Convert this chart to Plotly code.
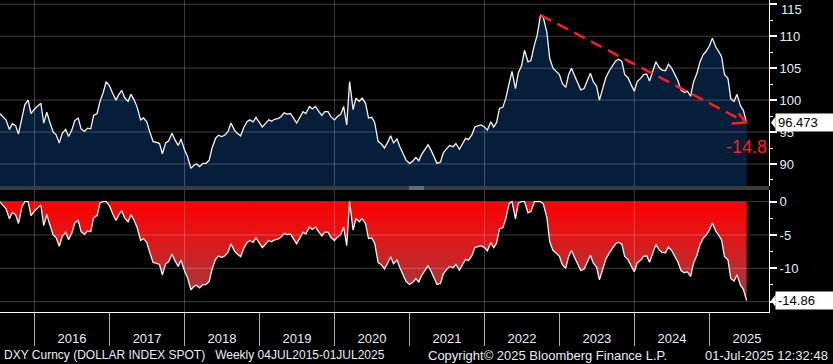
import numpy as np
import pandas as pd
import plotly.graph_objects as go

# ---------------- data (semi-monthly readings of DXY) -------------
dxy_2015 = [97.9, 97.4, 96.9, 95.4, 96.3, 96.0, 94.7, 97.2, 99.3, 100.0, 97.9]
dxy_2016 = [98.6, 99.0, 99.5, 96.4, 98.1, 96.6, 95.0, 94.6, 93.3, 94.8, 95.4, 94.3,
            95.3, 96.8, 97.2, 95.5, 95.1, 95.6, 95.5, 97.6, 97.9, 99.8, 101.2, 102.9]
dxy_2017 = [102.2, 101.1, 100.0, 100.9, 101.5, 100.4, 99.8, 100.9, 100.0, 98.9, 96.9, 97.2,
            96.6, 95.1, 93.5, 93.4, 93.2, 91.6, 93.3, 93.6, 94.8, 93.8, 92.9, 93.9]
dxy_2018 = [92.2, 91.2, 89.3, 89.8, 90.0, 89.6, 90.1, 90.1, 90.6, 92.5, 94.0, 94.5,
            94.3, 94.5, 95.1, 96.4, 95.3, 94.8, 94.4, 95.6, 96.6, 96.9, 96.6, 97.3]
dxy_2019 = [96.4, 95.8, 96.4, 96.9, 96.7, 97.0, 97.1, 97.4, 98.0, 97.8, 97.9, 97.2,
            96.4, 97.2, 98.2, 97.9, 99.0, 98.6, 99.0, 98.3, 97.6, 98.2, 98.2, 97.4]
dxy_2020 = [96.9, 97.4, 97.8, 99.0, 96.1, 102.9, 98.5, 100.3, 99.8, 100.3, 99.5, 97.2,
            97.3, 96.5, 93.5, 93.2, 92.5, 93.3, 94.4, 93.3, 93.9, 92.7, 91.5, 90.6]
dxy_2021 = [90.1, 90.4, 91.0, 90.5, 91.5, 92.2, 93.0, 92.2, 91.0, 90.1, 90.3, 91.8,
            92.4, 92.9, 92.7, 93.2, 92.3, 93.0, 94.0, 93.8, 94.6, 95.8, 96.0, 96.1]
dxy_2022 = [95.8, 95.3, 96.6, 95.8, 96.5, 98.7, 98.9, 100.3, 102.6, 104.5, 101.8, 104.3,
            105.4, 107.8, 106.0, 106.2, 108.6, 110.2, 113.31, 112.9, 110.6, 106.5, 105.0, 104.6]
dxy_2023 = [104.0, 102.6, 102.0, 104.0, 105.0, 103.9, 102.6, 101.6, 101.8, 102.9, 104.2, 102.9,
            102.2, 100.0, 101.8, 103.5, 104.6, 105.3, 106.1, 106.4, 106.1, 104.0, 103.5, 102.5]
dxy_2024 = [101.4, 102.9, 103.4, 104.0, 104.1, 103.0, 104.5, 106.0, 105.1, 104.7, 104.6, 105.6,
            105.0, 104.2, 103.0, 101.6, 101.2, 101.4, 100.6, 102.8, 104.2, 105.9, 107.1, 107.6]
dxy_2025 = [108.5, 109.7, 108.3, 107.6, 106.8, 104.0, 103.4, 100.2, 99.8, 100.9, 99.1, 98.4,
            96.473]

first_date, last_date = "2015-07-15", "2025-07-01"

top_ticks = [90, 95, 100, 105, 110, 115]
top_ticktext = ["90", "95", "100", "105", "110", ""]   # 115 is drawn nudged down (see below)
bot_ticks = [0, -5, -10, -15]
bot_ticktext = ["0", "-5", "-10", ""]                  # -15 sits under the last-value box
grid_dates = ["2016-01-01", "2018-01-01", "2020-01-01", "2022-01-01", "2024-01-01"]

footer_left = "DXY Curncy (DOLLAR INDEX SPOT)\u00a0\u00a0\u00a0Weekly 04JUL2015-01JUL2025"
footer_mid = "Copyright\u00a9 2025 Bloomberg Finance L.P."
footer_right = "01-Jul-2025 12:32:48"

# ---------------- derived -------------
dxy = np.array(dxy_2015 + dxy_2016 + dxy_2017 + dxy_2018 + dxy_2019 + dxy_2020
               + dxy_2021 + dxy_2022 + dxy_2023 + dxy_2024 + dxy_2025)
dates = pd.date_range(first_date, last_date, freq="SMS")
assert len(dates) == len(dxy), (len(dates), len(dxy))
drawdown = (dxy / np.maximum.accumulate(dxy) - 1.0) * 100.0
ipk = int(np.argmax(dxy))

# ---------------- style -------------
FONT = "Liberation Sans, Arial, sans-serif"
TXT = "#e8eef6"
NAVY = "#061e3a"
RED = "#ff1e1e"
GRID = "rgba(255,255,255,0.24)"
X_RANGE = ["2015-07-17", "2025-10-18"]
PH = 312.0  # plot-area height in px
TOP_LO = (PH - 186) / PH
BOT_HI = (PH - 190) / PH
BOX_X = 775 / 769.0

fig = go.Figure()
fig.add_trace(go.Scatter(
    x=dates, y=dxy, mode="lines", line=dict(color="#f4f4f4", width=1.3),
    fill="tozeroy", fillcolor=NAVY, xaxis="x", yaxis="y", hoverinfo="skip"))
fig.add_trace(go.Scatter(
    x=dates, y=drawdown, mode="lines", line=dict(color="#f4f4f4", width=1.3),
    fill="tozeroy",
    fillgradient=dict(type="vertical", start=-15, stop=0,
                      colorscale=[[0, "rgb(150,62,68)"], [0.5, "rgb(210,32,34)"],
                                  [1, "rgb(255,0,0)"]]),
    xaxis="x2", yaxis="y2", hoverinfo="skip"))

yfont = dict(family=FONT, size=13, color=TXT)
fig.update_layout(
    width=833, height=364,
    margin=dict(l=0, r=64, t=0, b=52, autoexpand=False),
    paper_bgcolor="black", plot_bgcolor="black",
    showlegend=False,
    font=dict(family=FONT, size=13, color=TXT),
    xaxis=dict(domain=[0, 1], anchor="y", type="date", range=X_RANGE,
               showticklabels=False, ticks="", showgrid=False, zeroline=False,
               showline=False),
    xaxis2=dict(domain=[0, 1], anchor="y2", type="date", range=X_RANGE, matches="x",
                dtick="M12", tick0="2016-01-01", tickformat="%Y", ticklabelmode="period",
                ticks="outside", ticklen=33, tickwidth=1, tickcolor="#b0b0b0",
                showline=True, linecolor="#ffffff", linewidth=1, showgrid=False,
                zeroline=False, ticklabelstandoff=-19, tickfont=yfont),
    yaxis=dict(domain=[TOP_LO, 1], anchor="x", side="right", range=[86.55, 115.67],
               tickmode="array", tickvals=top_ticks, ticktext=top_ticktext,
               ticks="outside", ticklen=7,
               tickwidth=2, tickcolor="#ffffff", showline=True, linecolor="#ffffff",
               linewidth=1, showgrid=False, zeroline=False, tickfont=yfont,
               minor=dict(ticks="outside", ticklen=3, tickwidth=1, tickcolor="#ffffff",
                          dtick=2.5, tick0=0)),
    yaxis2=dict(domain=[0, BOT_HI], anchor="x2", side="right", range=[-16.56, 1.75],
                tickmode="array", tickvals=bot_ticks, ticktext=bot_ticktext,
                ticks="outside", ticklen=7, tickwidth=2, tickcolor="#ffffff",
                showline=True, linecolor="#ffffff", linewidth=1, showgrid=False,
                zeroline=False, tickfont=yfont,
                minor=dict(ticks="outside", ticklen=3, tickwidth=1, tickcolor="#ffffff",
                           dtick=2.5, tick0=0)),
)

shapes = []
# gridlines drawn above the fills (as in the reference)
for v in top_ticks:
    shapes.append(dict(type="line", xref="paper", x0=0, x1=1, yref="y", y0=v, y1=v,
                       line=dict(color=GRID, width=1), layer="above"))
for v in bot_ticks:
    shapes.append(dict(type="line", xref="paper", x0=0, x1=1, yref="y2", y0=v, y1=v,
                       line=dict(color=GRID, width=1), layer="above"))
for d in grid_dates:
    for xr, (ya, yb) in (("x", (TOP_LO, 1.0)), ("x2", (0.0, BOT_HI))):
        shapes.append(dict(type="line", xref=xr, x0=d, x1=d, yref="paper", y0=ya, y1=yb,
                           line=dict(color=GRID, width=1), layer="above"))
# separator between panels
shapes.append(dict(type="rect", xref="paper", x0=0, x1=1, yref="paper", y0=BOT_HI, y1=TOP_LO,
                   fillcolor="#3c3c3c", line=dict(width=0), layer="above"))
for yy in (187.0, 189.0):
    shapes.append(dict(type="line", xref="paper", x0=409 / 769.0, x1=424 / 769.0,
                       yref="paper", y0=(PH - yy) / PH, y1=(PH - yy) / PH,
                       line=dict(color="#9a9a9a", width=1), layer="above"))
# red dashed arrow from the peak to the last value
shapes.append(dict(type="line", xref="x", yref="y",
                   x0=dates[ipk], y0=dxy[ipk], x1=dates[-1], y1=dxy[-1],
                   line=dict(color=RED, width=2.5, dash="12px,7px"), layer="above"))
for bx, by in ((-15, -1), (-8, 9)):
    shapes.append(dict(type="line", xref="x", yref="y",
                       xsizemode="pixel", xanchor=dates[-1], x0=bx, x1=0,
                       ysizemode="pixel", yanchor=dxy[-1], y0=by, y1=0,
                       line=dict(color=RED, width=2.5), layer="above"))
# pointers of the last-value boxes
for yr, yv in (("y", dxy[-1]), ("y2", drawdown[-1])):
    shapes.append(dict(type="path", xref="paper", xsizemode="pixel", xanchor=BOX_X,
                       yref=yr, ysizemode="pixel", yanchor=yv,
                       path="M 0.5,-6 L -4,0 L 0.5,6 Z",
                       fillcolor="#ffffff", line=dict(width=0), layer="above"))
fig.update_layout(shapes=shapes)

ann = []
# top tick label "115" nudged down so it stays inside the picture
ann.append(dict(xref="paper", x=779 / 769.0, xanchor="left", yref="y", y=top_ticks[-1],
                yshift=-5, yanchor="middle", showarrow=False, text=str(top_ticks[-1]),
                font=yfont))
ann.append(dict(xref="paper", x=BOX_X, xanchor="left", yref="y", y=dxy[-1], yanchor="middle",
                text=f"{dxy[-1]:.3f}", showarrow=False, bgcolor="#ffffff",
                font=dict(family=FONT, size=13, color="#000000"),
                width=54, height=13, borderpad=2, align="left", valign="middle"))
ann.append(dict(xref="paper", x=BOX_X, xanchor="left", yref="y2", y=drawdown[-1],
                yanchor="middle", text=f"{drawdown[-1]:.2f}", showarrow=False,
                bgcolor="#ffffff", font=dict(family=FONT, size=13, color="#000000"),
                width=54, height=13, borderpad=2, align="left", valign="middle"))
ann.append(dict(xref="x", x=dates[-1], yref="y", y=dxy[-1], yshift=-24, xanchor="center",
                yanchor="middle", showarrow=False,
                text=f"{np.trunc(drawdown[-1] * 10) / 10:.1f}",
                font=dict(family=FONT, size=18, color=RED)))
fy = (PH - 355) / PH
ann.append(dict(xref="paper", x=2 / 769.0, xanchor="left", yref="paper", y=fy,
                yanchor="middle", showarrow=False, text=footer_left,
                font=dict(family=FONT, size=12, color=TXT)))
ann.append(dict(xref="paper", x=426 / 769.0, xanchor="left", yref="paper", y=fy,
                yanchor="middle", showarrow=False, text=footer_mid,
                font=dict(family=FONT, size=13, color=TXT)))
ann.append(dict(xref="paper", x=830 / 769.0, xanchor="right", yref="paper", y=fy,
                yanchor="middle", showarrow=False, text=footer_right,
                font=dict(family=FONT, size=13, color=TXT)))
fig.update_layout(annotations=ann)

fig.write_html("out.html", config={"displayModeBar": False},
               post_script="document.body.style.margin='0';"
                           "document.body.style.background='black';")
